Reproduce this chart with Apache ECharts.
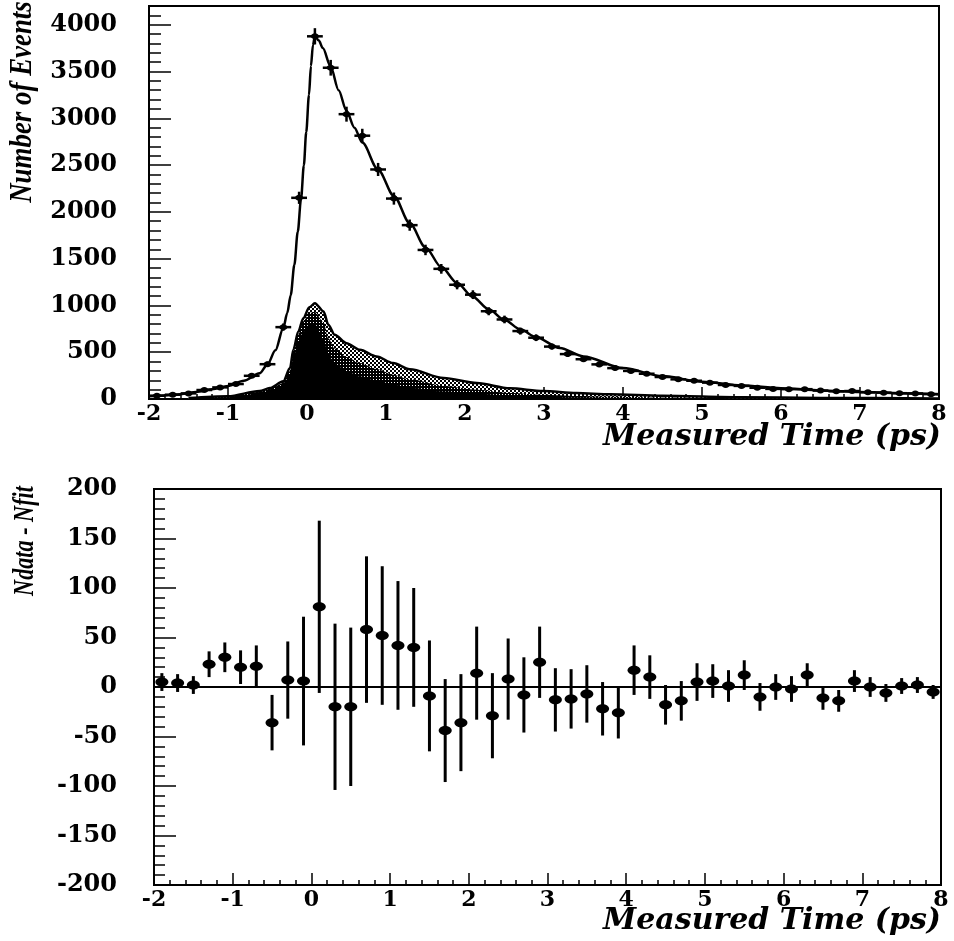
<!DOCTYPE html>
<html>
<head>
  <meta charset="utf-8">
  <title>Measured Time</title>
  <script src="https://cdn.jsdelivr.net/npm/echarts@6/dist/echarts.min.js"></script>
</head>
<style>
  * { padding: 0; margin: 0; }
  #main { width: 954px; height: 941px; background: #fff; }
</style>
<body>
  <div id="main"></div>
  <script type="text/javascript">
    // bin centres (ps), shared by both panels
    var binX = [-1.9, -1.7, -1.5, -1.3, -1.1, -0.9, -0.7, -0.5, -0.3, -0.1,
      0.1, 0.3, 0.5, 0.7, 0.9, 1.1, 1.3, 1.5, 1.7, 1.9,
      2.1, 2.3, 2.5, 2.7, 2.9, 3.1, 3.3, 3.5, 3.7, 3.9,
      4.1, 4.3, 4.5, 4.7, 4.9, 5.1, 5.3, 5.5, 5.7, 5.9,
      6.1, 6.3, 6.5, 6.7, 6.9, 7.1, 7.3, 7.5, 7.7, 7.9];

    // top panel: number of events per bin
    var counts = [35, 46, 60, 96, 124, 160, 248, 372, 768, 2150,
      3876, 3540, 3044, 2814, 2453, 2142, 1858, 1593, 1391, 1221,
      1115, 938, 850, 726, 655, 560, 480, 425, 370, 330,
      300, 270, 235, 210, 195, 175, 150, 140, 120, 108,
      105, 105, 90, 82, 85, 72, 68, 62, 60, 52];

    // bottom panel: Ndata - Nfit and its error
    var resid = [5, 4, 2, 23, 30, 20, 21, -36, 7, 6,
      81, -20, -20, 58, 52, 42, 40, -9, -44, -36,
      14, -29, 8, -8, 25, -13, -12, -7, -22, -26,
      17, 10, -18, -14, 5, 6, 1, 12, -10, 0,
      -2, 12, -11, -14, 6, 0, -6, 1, 2, -5];
    var errs = [9, 9, 9, 13, 15, 17, 21, 28, 39, 65,
      87, 84, 80, 74, 70, 65, 60, 56, 52, 49,
      47, 43, 41, 38, 36, 32, 30, 29, 27, 26,
      25, 22, 20, 20, 19, 17, 16, 15, 14, 13,
      13, 12, 12, 11, 11, 10, 9, 8, 8, 7];

    // fit curve
    var fitX = [-2, -1.8, -1.6, -1.4, -1.2, -1.0, -0.8, -0.6, -0.5, -0.4, -0.3, -0.25, -0.206, -0.16, -0.117, -0.075,
      -0.04, -0.01, 0.025, 0.05, 0.075, 0.1, 0.15, 0.2, 0.3, 0.4, 0.5, 0.6, 0.7, 0.9, 1.1, 1.3, 1.5, 1.7, 1.9,
      2.1, 2.3, 2.5, 2.7, 2.9, 3.2, 3.5, 4.0, 4.5, 5.0, 5.5, 6.0, 6.5, 7.0, 7.5, 8.0];
    var fitY = [30, 38, 52, 75, 105, 140, 195, 275, 370, 520, 760, 920, 1110, 1434, 1788, 2142,
      2496, 2850, 3250, 3560, 3780, 3880, 3830, 3750, 3550, 3300, 3080, 2900, 2740, 2450, 2170, 1880, 1620, 1410, 1240,
      1090, 960, 845, 745, 660, 545, 455, 330, 245, 185, 145, 115, 92, 75, 62, 52];

    // background components (stacked shading): outer envelope, dotted middle, solid core
    var shadeX = [-1.5, -1.0, -0.6, -0.47, -0.3, -0.215, -0.173, -0.11, -0.047, 0.03, 0.10, 0.21, 0.27, 0.35,
      0.50, 0.67, 0.88, 1.09, 1.30, 1.73, 2.15, 2.57, 2.99, 3.41, 3.84, 4.5, 5.5, 6.5, 8];
    var shadeOuter = [10, 30, 85, 117, 189, 331, 526, 722, 864, 980, 1024, 935, 793, 686,
      597, 526, 455, 384, 318, 224, 170, 115, 85, 64, 50, 35, 20, 12, 5];
    var shadeMid = [8, 25, 75, 105, 170, 300, 490, 690, 830, 920, 930, 820, 650, 540,
      450, 384, 320, 260, 210, 140, 100, 65, 45, 32, 24, 16, 9, 5, 2];
    var shadeCore = [6, 20, 60, 90, 150, 270, 440, 620, 720, 800, 800, 640, 473, 380,
      300, 242, 195, 155, 120, 80, 55, 35, 25, 18, 13, 9, 5, 3, 1];

    function zip(xs, ys) {
      return xs.map(function (x, i) { return [x, ys[i]]; });
    }
    function zip3(xs, ys, es) {
      return xs.map(function (x, i) { return [x, ys[i], es[i]]; });
    }

    // dot patterns for the shaded areas
    function pattern(size, draw) {
      var c = document.createElement('canvas');
      c.width = c.height = size;
      var ctx = c.getContext('2d');
      draw(ctx);
      return { image: c, repeat: 'repeat' };
    }
    var lightDots = pattern(4, function (ctx) {
      ctx.fillStyle = '#fff'; ctx.fillRect(0, 0, 4, 4);
      ctx.fillStyle = '#000'; ctx.fillRect(0, 0, 2, 2); ctx.fillRect(2, 2, 2, 2);
    });
    var darkDots = pattern(3, function (ctx) {
      ctx.fillStyle = '#000'; ctx.fillRect(0, 0, 3, 3);
      ctx.fillStyle = '#fff'; ctx.fillRect(1, 1, 1, 1);
    });

    var labelFont = { color: '#000', fontFamily: 'DejaVu Serif', fontWeight: 'bold' };
    function plain(v) { return String(v); }

    function xAxisCfg(gridIndex) {
      return {
        type: 'value', gridIndex: gridIndex, min: -2, max: 8, interval: 1,
        axisLine: { onZero: false, lineStyle: { color: '#000', width: 2 } },
        axisTick: { inside: true, length: 12, lineStyle: { color: '#000', width: 1.5 } },
        minorTick: { show: true, splitNumber: 5, length: 5, lineStyle: { color: '#000', width: 1.5 } },
        splitLine: { show: false },
        axisLabel: Object.assign({ fontSize: 22, margin: 4, formatter: plain }, labelFont)
      };
    }

    function errorCross(params, api) {
      var x = api.value(0), y = api.value(1), e = api.value(2);
      var p = api.coord([x, y]);
      var l = api.coord([x - 0.1, y]);
      var r = api.coord([x + 0.1, y]);
      var lo = api.coord([x, y - e]);
      var hi = api.coord([x, y + e]);
      return {
        type: 'group', children: [
          { type: 'line', shape: { x1: l[0], y1: p[1], x2: r[0], y2: p[1] }, style: { stroke: '#000', lineWidth: 2.5 } },
          { type: 'line', shape: { x1: p[0], y1: lo[1], x2: p[0], y2: hi[1] }, style: { stroke: '#000', lineWidth: 2.5 } },
          { type: 'ellipse', shape: { cx: p[0], cy: p[1], rx: 4, ry: 3 }, style: { fill: '#000' } }
        ]
      };
    }

    function errorDot(params, api) {
      var x = api.value(0), y = api.value(1), e = api.value(2);
      var p = api.coord([x, y]);
      var lo = api.coord([x, y - e]);
      var hi = api.coord([x, y + e]);
      return {
        type: 'group', children: [
          { type: 'line', shape: { x1: p[0], y1: lo[1], x2: p[0], y2: hi[1] }, style: { stroke: '#000', lineWidth: 3 } },
          { type: 'ellipse', shape: { cx: p[0], cy: p[1], rx: 6.5, ry: 4.5 }, style: { fill: '#000' } }
        ]
      };
    }

    var option = {
      animation: false,
      backgroundColor: '#fff',
      grid: [
        { left: 149, right: 15, top: 6, height: 393, show: true, borderColor: '#000', borderWidth: 2, backgroundColor: 'transparent' },
        { left: 154, right: 13, top: 489, height: 396, show: true, borderColor: '#000', borderWidth: 2, backgroundColor: 'transparent' }
      ],
      xAxis: [xAxisCfg(0), xAxisCfg(1)],
      yAxis: [
        {
          type: 'value', gridIndex: 0, min: 0, max: 4200, interval: 500,
          axisLine: { show: true, onZero: false, lineStyle: { color: '#000', width: 2 } },
          axisTick: { show: true, inside: true, length: 22, lineStyle: { color: '#000', width: 1.5 } },
          minorTick: { show: true, splitNumber: 5, length: 12, lineStyle: { color: '#000', width: 1.5 } },
          splitLine: { show: false },
          axisLabel: Object.assign({ fontSize: 24, margin: 32, showMaxLabel: false, formatter: plain }, labelFont)
        },
        {
          type: 'value', gridIndex: 1, min: -200, max: 200, interval: 50,
          axisLine: { show: true, onZero: false, lineStyle: { color: '#000', width: 2 } },
          axisTick: { show: true, inside: true, length: 22, lineStyle: { color: '#000', width: 1.5 } },
          minorTick: { show: true, splitNumber: 5, length: 11, lineStyle: { color: '#000', width: 1.5 } },
          splitLine: { show: false },
          axisLabel: Object.assign({ fontSize: 24, margin: 37, formatter: plain }, labelFont)
        }
      ],
      graphic: [
        {
          type: 'text', x: 23, y: 102, rotation: Math.PI / 2, scaleX: 0.84,
          style: { text: 'Number of Events', font: 'italic bold 32px "Liberation Serif"', fill: '#000', textAlign: 'center', textVerticalAlign: 'middle', verticalAlign: 'middle' }
        },
        {
          type: 'text', x: 25, y: 541, rotation: Math.PI / 2, scaleX: 0.74,
          style: { text: 'Ndata - Nfit', font: 'italic bold 30px "Liberation Serif"', fill: '#000', textAlign: 'center', textVerticalAlign: 'middle', verticalAlign: 'middle' }
        },
        {
          type: 'text', x: 941, y: 437,
          style: { text: 'Measured Time (ps)', font: 'italic bold 30px "DejaVu Serif"', fill: '#000', textAlign: 'right', textVerticalAlign: 'middle', verticalAlign: 'middle' }
        },
        {
          type: 'text', x: 941, y: 921,
          style: { text: 'Measured Time (ps)', font: 'italic bold 30px "DejaVu Serif"', fill: '#000', textAlign: 'right', textVerticalAlign: 'middle', verticalAlign: 'middle' }
        }
      ],
      series: [
        {
          name: 'envelope', type: 'line', xAxisIndex: 0, yAxisIndex: 0,
          data: zip(shadeX, shadeOuter), smooth: 0.3, smoothMonotone: 'x', showSymbol: false,
          lineStyle: { color: '#000', width: 2.5 }, areaStyle: { color: lightDots, opacity: 1 }
        },
        {
          name: 'middle', type: 'line', xAxisIndex: 0, yAxisIndex: 0,
          data: zip(shadeX, shadeMid), smooth: 0.3, smoothMonotone: 'x', showSymbol: false,
          lineStyle: { width: 0 }, areaStyle: { color: darkDots, opacity: 1 }
        },
        {
          name: 'core', type: 'line', xAxisIndex: 0, yAxisIndex: 0,
          data: zip(shadeX, shadeCore), smooth: 0.3, smoothMonotone: 'x', showSymbol: false,
          lineStyle: { width: 0 }, areaStyle: { color: '#000', opacity: 1 }
        },
        {
          name: 'fit', type: 'line', xAxisIndex: 0, yAxisIndex: 0,
          data: zip(fitX, fitY), smooth: 0.3, smoothMonotone: 'x', showSymbol: false,
          lineStyle: { color: '#000', width: 2.5 }
        },
        {
          name: 'data', type: 'custom', xAxisIndex: 0, yAxisIndex: 0,
          data: zip3(binX, counts, errs), renderItem: errorCross, z: 5
        },
        {
          name: 'residual', type: 'custom', xAxisIndex: 1, yAxisIndex: 1,
          data: zip3(binX, resid, errs), renderItem: errorDot, z: 5,
          markLine: {
            silent: true, symbol: 'none', label: { show: false },
            lineStyle: { color: '#000', width: 2, type: 'solid' },
            data: [{ yAxis: 0 }]
          }
        }
      ]
    };

    var myChart = echarts.init(document.getElementById('main'));
    myChart.setOption(option);
  </script>
</body>
</html>
